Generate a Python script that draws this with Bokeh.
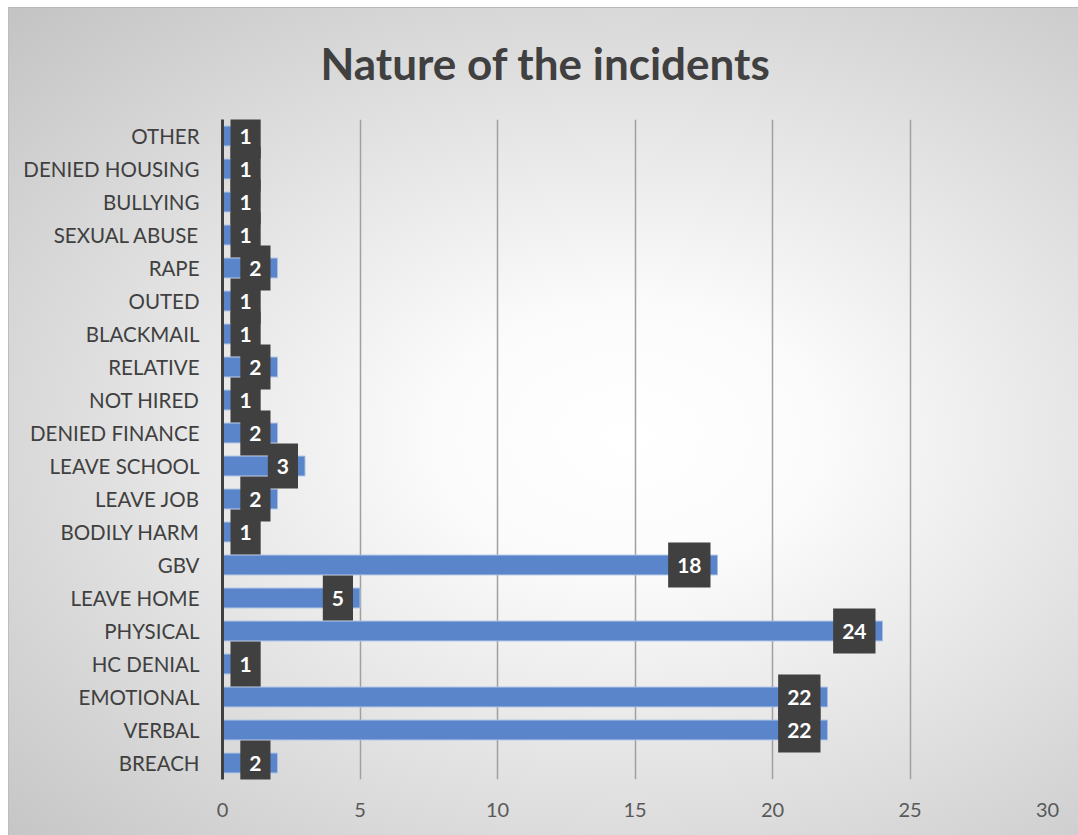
from bokeh.plotting import figure
from bokeh.models import Range1d, FixedTicker, ColumnDataSource
from bokeh.core.properties import value
from bokeh.embed import file_html
from bokeh.resources import INLINE

# Data (bottom to top, as drawn)
categories = ["BREACH", "VERBAL", "EMOTIONAL", "HC DENIAL", "PHYSICAL", "LEAVE HOME",
              "GBV", "BODILY HARM", "LEAVE JOB", "LEAVE SCHOOL", "DENIED FINANCE",
              "NOT HIRED", "RELATIVE", "BLACKMAIL", "OUTED", "RAPE", "SEXUAL ABUSE",
              "BULLYING", "DENIED HOUSING", "OTHER"]
counts = [2, 22, 22, 1, 24, 5, 18, 1, 2, 3, 2, 1, 2, 1, 1, 2, 1, 1, 1, 1]
x_ticks = [0, 5, 10, 15, 20, 25, 30]
title_text = "Nature of the incidents"

FONT = "Lato"

p = figure(width=1070, height=828, y_range=categories, x_range=Range1d(0, 30),
           output_backend="svg", toolbar_location=None, title=title_text,
           min_border_left=214, min_border_right=31, min_border_top=112, min_border_bottom=56)
p.title.align = "left"
p.title.vertical_align = "top"
p.title.offset = 98
p.title.standoff = 57
p.title.text_font = FONT
p.title.text_font_style = "bold"
p.title.text_font_size = "44px"
p.title.text_color = "#404040"

p.background_fill_alpha = 0
p.border_fill_alpha = 0
p.outline_line_color = None
p.styles = {
    "margin-left": "8px",
    "margin-top": "7px",
    "background": "radial-gradient(ellipse farthest-corner at 58% 52%, #ffffff 0%, #fbfbfb 22%, #c3c3c3 100%)",
    "box-shadow": "inset 0 1px 0 0 #b8b8b8, inset 1px 0 0 0 #bdbdbd",
}

src = ColumnDataSource(dict(cat=categories, val=counts))
p.hbar(y="cat", right="val", left=0, height=0.6, source=src,
       fill_color="#5b85ca", line_color="#a9bfe4", line_width=1)

# data labels
big = [(c, v) for c, v in zip(categories, counts) if v >= 2]
small = [(c, v) for c, v in zip(categories, counts) if v < 2]
lab_kw = dict(text_font=value(FONT), text_font_style="bold", text_font_size="21px",
              text_color="white", text_baseline="middle",
              background_fill_color="#404040",
              padding=dict(left=9, right=9, top=15, bottom=15))
p.text(x=[v for c, v in big], y=[c for c, v in big], text=[str(v) for c, v in big],
       text_align="right", x_offset=-7, **lab_kw)
p.text(x=[0 for c, v in small], y=[c for c, v in small], text=[str(v) for c, v in small],
       text_align="left", x_offset=8, **lab_kw)

# axes
p.xaxis.ticker = FixedTicker(ticks=x_ticks)
p.xaxis.axis_line_color = None
p.xaxis.major_tick_line_color = None
p.xaxis.minor_tick_line_color = None
p.xaxis.major_label_standoff = 17
p.xaxis.major_label_text_font = FONT
p.xaxis.major_label_text_font_size = "20px"
p.xaxis.major_label_text_color = "#595959"

p.yaxis.axis_line_color = "#404040"
p.yaxis.axis_line_width = 3
p.yaxis.major_tick_line_color = None
p.yaxis.minor_tick_line_color = None
p.yaxis.major_label_standoff = 17
p.yaxis.major_label_text_font = FONT
p.yaxis.major_label_text_font_size = "20.5px"
p.yaxis.major_label_text_color = "#404040"

p.xgrid.ticker = FixedTicker(ticks=x_ticks)
p.xgrid.grid_line_color = "#a0a0a0"
p.xgrid.grid_line_width = 1.5
p.ygrid.grid_line_color = None

open("out.html", "w").write(file_html(p, INLINE))
